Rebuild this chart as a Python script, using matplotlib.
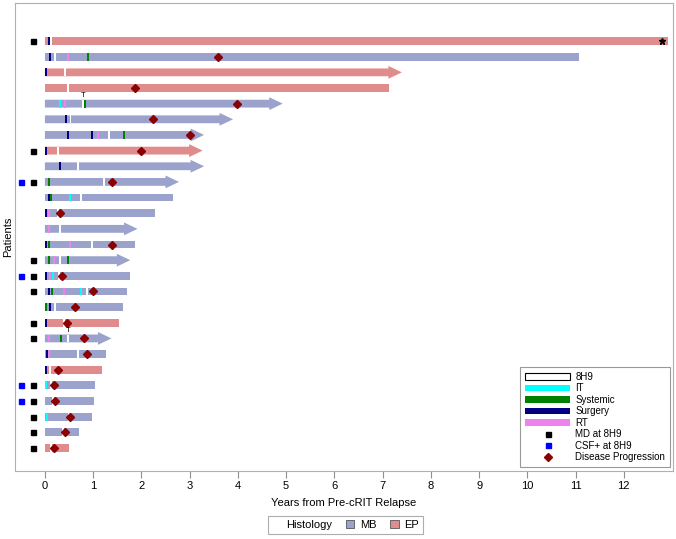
import matplotlib
matplotlib.use('Agg')
import matplotlib.pyplot as plt
from matplotlib.patches import FancyArrow, Patch
from matplotlib.lines import Line2D

plt.rcParams['font.family'] = ['Liberation Sans', 'DejaVu Sans']

# one entry per patient, top to bottom
histology = ['EP', 'MB', 'EP', 'EP', 'MB', 'MB', 'MB', 'EP', 'MB', 'MB',
             'MB', 'MB', 'MB', 'MB', 'MB', 'MB', 'MB', 'MB', 'EP', 'MB',
             'MB', 'EP', 'MB', 'MB', 'MB', 'MB', 'EP']
end_years = [12.91, 11.07, 7.40, 7.13, 4.93, 3.90, 3.30, 3.27, 3.30, 2.78,
             2.66, 2.29, 1.92, 1.86, 1.77, 1.76, 1.71, 1.62, 1.53, 1.38,
             1.26, 1.19, 1.03, 1.01, 0.98, 0.70, 0.49]
ongoing = [0, 0, 1, 0, 1, 1, 1, 1, 1, 1, 0, 0, 1, 0, 1, 0, 0, 0, 0, 1,
           0, 0, 0, 0, 0, 0, 0]
start_8h9 = [0.12, 0.21, 0.41, 0.48, 0.78, 0.53, 1.33, 0.28, 0.68, 1.23,
             0.75, 0.27, 0.31, 0.97, 0.31, 0.30, 0.88, 0.21, 0.39, 0.48,
             0.68, 0.10, 0.12, 0.16, 0.50, 0.38, 0.12]
progression = [None, 3.58, None, 1.87, 3.99, 2.25, 3.01, 2.00, None, 1.39,
               None, 0.32, None, 1.39, None, 0.35, 0.99, 0.62, 0.45, 0.82,
               0.87, 0.28, 0.19, 0.21, 0.53, 0.42, 0.19]
md_rows = [1, 8, 10, 15, 16, 17, 19, 20, 23, 24, 25, 26, 27]
csf_rows = [10, 16, 23, 24]

# (patient row, years)
surgery = [(1, 0.08), (2, 0.10), (3, 0.03), (6, 0.43), (7, 0.48), (7, 0.97),
           (8, 0.03), (9, 0.31), (11, 0.08), (12, 0.03), (14, 0.03), (16, 0.03),
           (17, 0.09), (18, 0.10), (19, 0.03), (21, 0.05), (22, 0.03)]
rt = [(2, 0.48), (5, 0.41), (7, 1.10), (12, 0.08), (13, 0.08), (14, 0.52),
      (15, 0.19), (16, 0.10), (17, 0.40), (20, 0.09), (21, 0.08)]
systemic = [(2, 0.89), (5, 0.83), (7, 1.63), (10, 0.09), (11, 0.13), (14, 0.09),
            (15, 0.08), (15, 0.48), (17, 0.14), (18, 0.02), (20, 0.34)]
it = [(5, 0.31), (11, 0.52), (16, 0.17), (17, 0.75), (23, 0.03), (25, 0.05)]
t_marks = [(5, 0.79), (20, 0.48)]
star_mark = (1, 12.79)

hist_colors = {'MB': '#9ba3cc', 'EP': '#e08c8c'}
event_colors = {'IT': '#00ffff', 'Systemic': '#008000', 'Surgery': '#000080', 'RT': '#ee82ee'}

fig = plt.figure(figsize=(6.76, 5.39), dpi=100)
ax = fig.add_axes([0.0222, 0.1262, 0.9734, 0.8682])

bar_h = 0.5
mark_w = 0.04
for i, (h, end) in enumerate(zip(histology, end_years)):
    row = i + 1
    c = hist_colors[h]
    if ongoing[i]:
        ax.add_patch(FancyArrow(0, row, end, 0, width=bar_h, head_width=0.82,
                                head_length=0.28, length_includes_head=True,
                                color=c, lw=0, zorder=2))
    else:
        ax.barh(row, end, height=bar_h, left=0, color=c, zorder=2)
    ax.barh(row, mark_w, height=bar_h, left=start_8h9[i] - mark_w / 2,
            color='white', zorder=3)

for name, pts in [('Surgery', surgery), ('RT', rt), ('Systemic', systemic), ('IT', it)]:
    for row, t in pts:
        ax.barh(row, mark_w, height=bar_h, left=t - mark_w / 2,
                color=event_colors[name], zorder=4)

prog_rows = [i + 1 for i, p in enumerate(progression) if p is not None]
prog_x = [p for p in progression if p is not None]
ax.plot(prog_x, prog_rows, 'D', color='#8b0000', ms=4.3, zorder=5)
ax.plot([-0.25] * len(md_rows), md_rows, 's', color='black', ms=3.6, zorder=5)
ax.plot([-0.5] * len(csf_rows), csf_rows, 's', color='#0000ff', ms=3.6, zorder=5)
ax.plot(star_mark[1], star_mark[0], '*', color='black', ms=5, zorder=5)
for row, t in t_marks:
    ax.text(t, row - 0.3, 'T', fontsize=5.5, ha='center', va='bottom', zorder=5)

ax.set_xlim(-0.62, 13.02)
ax.set_ylim(28.47, -1.43)
ax.set_xticks(range(13))
ax.set_yticks([])
ax.tick_params(axis='x', labelsize=8, length=5, color='#909090', pad=2)
for s in ax.spines.values():
    s.set_color('#b0b0b0')
ax.set_xlabel('Years from Pre-cRIT Relapse', fontsize=8, labelpad=5)
ax.set_ylabel('Patients', fontsize=8, labelpad=1)

handles = [Patch(facecolor='white', edgecolor='black', lw=0.8)]
handles += [Patch(facecolor=event_colors[k]) for k in ['IT', 'Systemic', 'Surgery', 'RT']]
handles += [Line2D([], [], ls='', marker='s', color='black', ms=3.6),
            Line2D([], [], ls='', marker='s', color='#0000ff', ms=3.6),
            Line2D([], [], ls='', marker='D', color='#8b0000', ms=4.3)]
labels = ['8H9', 'IT', 'Systemic', 'Surgery', 'RT', 'MD at 8H9', 'CSF+ at 8H9',
          'Disease Progression']
leg = ax.legend(handles, labels, loc='lower right', bbox_to_anchor=(0.9954, 0.0085),
                borderaxespad=0, fontsize=7, handlelength=4.6, handletextpad=0.55,
                labelspacing=0.15, fancybox=False, framealpha=1, borderpad=0.5)
leg.get_frame().set_edgecolor('#999999')
leg.get_frame().set_linewidth(0.8)

hist_handles = [Patch(visible=False),
                Patch(facecolor=hist_colors['MB'], edgecolor='#555555', lw=0.6),
                Patch(facecolor=hist_colors['EP'], edgecolor='#555555', lw=0.6)]
fleg = fig.legend(hist_handles, ['Histology', 'MB', 'EP'], loc='center',
                  bbox_to_anchor=(0.511, 0.026), ncols=3, fontsize=8,
                  handlelength=0.8, handleheight=0.8, handletextpad=0.5,
                  columnspacing=1.2, fancybox=False, borderpad=0.35)
fleg.get_frame().set_edgecolor('#999999')
fleg.get_frame().set_linewidth(0.8)

fig.savefig('out.png', dpi=100)
